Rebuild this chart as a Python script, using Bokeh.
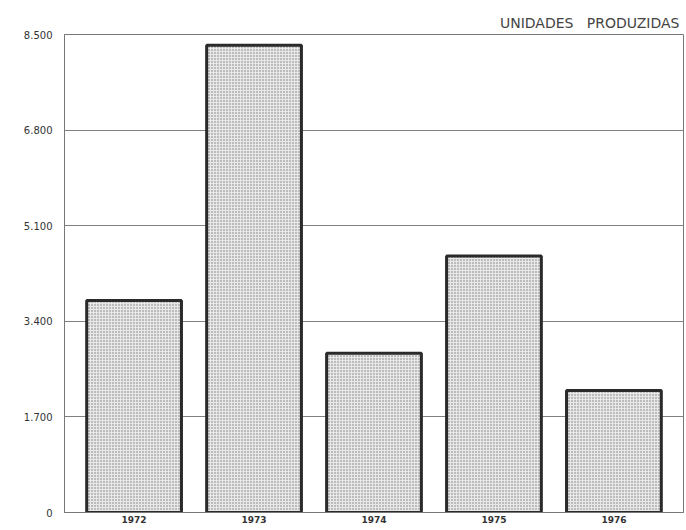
from bokeh.plotting import figure
from bokeh.models import FixedTicker, ColumnDataSource
from bokeh.embed import file_html
from bokeh.resources import INLINE

years = [1972, 1973, 1974, 1975, 1976]
units = [3770, 8310, 2830, 4560, 2170]
y_ticks = [0, 1700, 3400, 5100, 6800, 8500]
y_tick_labels = ["0", "1.700", "3.400", "5.100", "6.800", "8.500"]
title_text = "UNIDADES\u00a0\u00a0\u00a0PRODUZIDAS"

src = ColumnDataSource(dict(year=years, units=units))

p = figure(width=686, height=525, output_backend="svg", toolbar_location=None,
           x_range=(1971.42, 1976.58), y_range=(0, 8500),
           min_border_left=64, min_border_right=3, min_border_top=34, min_border_bottom=0)

p.title.text = title_text
p.title.align = "right"
p.title.text_font = "DejaVu Sans"
p.title.text_font_size = "14px"
p.title.text_font_style = "normal"
p.title.text_color = "#444444"
p.title.offset = 4
p.title.standoff = 7

p.vbar(x="year", top="units", width=0.79, source=src,
       fill_color="#e8e8e8", line_color="#2a2a2a", line_width=3,
       hatch_pattern="dot", hatch_color="#7a7a7a", hatch_scale=3, hatch_weight=1)

p.xgrid.visible = False
p.ygrid.ticker = FixedTicker(ticks=y_ticks)
p.ygrid.grid_line_color = "#808080"
p.ygrid.grid_line_width = 1

p.yaxis.ticker = FixedTicker(ticks=y_ticks)
p.yaxis.major_label_overrides = {t: l for t, l in zip(y_ticks, y_tick_labels)}
p.yaxis.major_tick_in = 0
p.yaxis.major_tick_out = 0
p.yaxis.minor_tick_line_color = None
p.yaxis.axis_line_color = "#777777"
p.yaxis.major_label_standoff = 12
p.yaxis.major_label_text_font = "DejaVu Sans"
p.yaxis.major_label_text_font_size = "10px"
p.yaxis.major_label_text_color = "#333333"

p.xaxis.ticker = FixedTicker(ticks=years)
p.xaxis.major_tick_in = 0
p.xaxis.major_tick_out = 0
p.xaxis.minor_tick_line_color = None
p.xaxis.axis_line_color = "#777777"
p.xaxis.major_label_standoff = 3
p.xaxis.major_label_text_font = "DejaVu Sans"
p.xaxis.major_label_text_font_size = "9px"
p.xaxis.major_label_text_font_style = "bold"
p.xaxis.major_label_text_color = "#333333"

p.outline_line_color = "#777777"
p.outline_line_width = 1

open("out.html", "w").write(file_html(p, INLINE))
